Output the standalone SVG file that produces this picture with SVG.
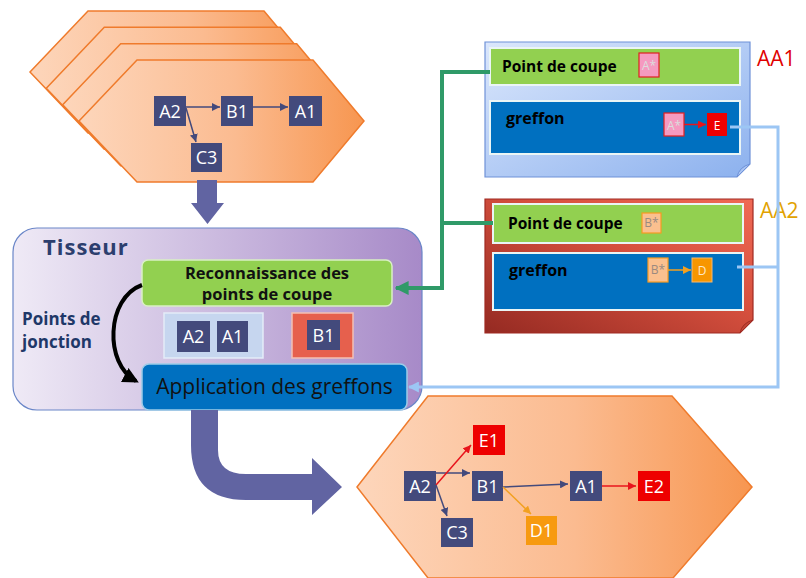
<svg xmlns="http://www.w3.org/2000/svg" width="806" height="578" viewBox="0 0 806 578">
  <defs>
    <linearGradient id="gOrange" x1="0" y1="0" x2="1" y2="0">
      <stop offset="0" stop-color="#fdd6bb"/>
      <stop offset="0.55" stop-color="#fbbb90"/>
      <stop offset="1" stop-color="#f79650"/>
    </linearGradient>
    <linearGradient id="gLav" x1="0" y1="0" x2="1" y2="0">
      <stop offset="0" stop-color="#efeaf6"/>
      <stop offset="1" stop-color="#a78ac8"/>
    </linearGradient>
    <linearGradient id="gBlueNote" x1="0" y1="0" x2="1" y2="1">
      <stop offset="0" stop-color="#dbe7fc"/>
      <stop offset="1" stop-color="#8cb1ee"/>
    </linearGradient>
    <linearGradient id="gRedNote" x1="0" y1="1" x2="1" y2="0">
      <stop offset="0" stop-color="#952a22"/>
      <stop offset="0.6" stop-color="#d8513f"/>
      <stop offset="1" stop-color="#f06a55"/>
    </linearGradient>
    <marker id="mNavy" viewBox="0 0 8 8" refX="8" refY="4" markerWidth="8" markerHeight="8" markerUnits="userSpaceOnUse" orient="auto">
      <path d="M0,0 L8,4 L0,8 Z" fill="#434a7c"/>
    </marker>
    <marker id="mRed" viewBox="0 0 8 8" refX="8" refY="4" markerWidth="8" markerHeight="8" markerUnits="userSpaceOnUse" orient="auto">
      <path d="M0,0 L8,4 L0,8 Z" fill="#e8141c"/>
    </marker>
    <marker id="mOrange" viewBox="0 0 8 8" refX="8" refY="4" markerWidth="8" markerHeight="8" markerUnits="userSpaceOnUse" orient="auto">
      <path d="M0,0 L8,4 L0,8 Z" fill="#f2a020"/>
    </marker>
    <marker id="mGreen" viewBox="0 0 10 10" refX="9" refY="5" markerWidth="14" markerHeight="14" markerUnits="userSpaceOnUse" orient="auto">
      <path d="M0,0 L10,5 L0,10 Z" fill="#2f9a68"/>
    </marker>
    <marker id="mLight" viewBox="0 0 10 10" refX="9" refY="5" markerWidth="11" markerHeight="11" markerUnits="userSpaceOnUse" orient="auto">
      <path d="M0,0 L10,5 L0,10 Z" fill="#9cc6f4"/>
    </marker>
    <marker id="mBlack" viewBox="0 0 10 10" refX="8" refY="5" markerWidth="16" markerHeight="16" markerUnits="userSpaceOnUse" orient="auto">
      <path d="M0,0 L10,5 L0,10 Z" fill="#000"/>
    </marker>
  </defs>
  <style>
    .hex { fill: url(#gOrange); stroke: #ef7b2c; stroke-width: 1.5; }
    .node { fill: #434a7c; }
    .nodeRed { fill: #ee0000; }
    .nodeOrange { fill: #f79a10; }
    .nt { font-family: "Open Sans", "Liberation Sans", sans-serif; font-size: 18px; fill: #ffffff; text-anchor: middle; }
    .bold { font-family: "Open Sans", "Liberation Sans", sans-serif; font-weight: bold; }
    .greenBar { fill: #92d050; stroke: #eaf5f5; stroke-width: 2; }
    .blueBar { fill: #0070c0; stroke: #eaf5f5; stroke-width: 2; }
    .arrNavy { stroke: #434a7c; stroke-width: 1.5; fill: none; marker-end: url(#mNavy); }
    .arrRed { stroke: #e8141c; stroke-width: 1.5; fill: none; marker-end: url(#mRed); }
    .arrOrange { stroke: #f2a020; stroke-width: 1.5; fill: none; marker-end: url(#mOrange); }
    .small { font-family: "Open Sans", "Liberation Sans", sans-serif; font-size: 12px; text-anchor: middle; }
    .bigArrow { fill: #6164a2; }
  </style>

  <!-- stacked program hexagons -->
  <g id="program-stack">
    <polygon class="hex" points="137,60 313,60 364,121 313,182 137,182 79,121" transform="translate(-49,-49)"/>
    <polygon class="hex" points="137,60 313,60 364,121 313,182 137,182 79,121" transform="translate(-32.7,-32.7)"/>
    <polygon class="hex" points="137,60 313,60 364,121 313,182 137,182 79,121" transform="translate(-16.3,-16.3)"/>
    <polygon class="hex" points="137,60 313,60 364,121 313,182 137,182 79,121"/>
  </g>
  <g id="top-A2"><rect class="node" x="154" y="96" width="32" height="30"/><text class="nt" x="170" y="117.5">A2</text></g>
  <g id="top-B1"><rect class="node" x="221" y="96" width="32" height="30"/><text class="nt" x="237" y="117.5">B1</text></g>
  <g id="top-A1"><rect class="node" x="289" y="96" width="33" height="30"/><text class="nt" x="305.5" y="117.5">A1</text></g>
  <g id="top-C3"><rect class="node" x="191" y="143" width="31" height="29"/><text class="nt" x="206.5" y="164">C3</text></g>

  <!-- weaver -->
  <g id="tisseur">
    <rect x="13" y="228" width="409" height="182" rx="24" fill="url(#gLav)" stroke="#6a86c8" stroke-width="1.2"/>
    <text class="bold" x="43" y="255" font-size="22" fill="#2c3e6e" letter-spacing="1">Tisseur</text>
    <text class="bold" x="22" y="325" font-size="17" fill="#1f3868">Points de</text>
    <text class="bold" x="22" y="348" font-size="17" fill="#1f3868">jonction</text>
  </g>
  <g id="reconnaissance">
    <rect x="142" y="260" width="250" height="46" rx="6" fill="#92d050" stroke="#d9f0c4" stroke-width="1.5"/>
    <text class="bold" x="267" y="279" font-size="16.5" fill="#111" text-anchor="middle">Reconnaissance des</text>
    <text class="bold" x="267" y="300" font-size="16.5" fill="#111" text-anchor="middle">points de coupe</text>
  </g>
  <g id="join-points-a">
    <rect x="164" y="313" width="99" height="45" fill="#c6d6ef" stroke="#e3ecf8" stroke-width="1.5"/>
    <rect class="node" x="177" y="321" width="33" height="31"/><text class="nt" x="193.5" y="343">A2</text>
    <rect class="node" x="217" y="321" width="31" height="31"/><text class="nt" x="232.5" y="343">A1</text>
  </g>
  <g id="join-points-b">
    <rect x="292" y="313" width="61" height="45" fill="#e6604d" stroke="#f3c0b4" stroke-width="1.5"/>
    <rect class="node" x="307" y="320" width="33" height="30"/><text class="nt" x="323.5" y="341.5">B1</text>
  </g>
  <g id="application">
    <rect x="142" y="364" width="265" height="46" rx="7" fill="#0070c0" stroke="#9ccbe8" stroke-width="1.5"/>
    <text x="274.5" y="394" font-family="'Open Sans','Liberation Sans',sans-serif" font-size="21" fill="#111" text-anchor="middle">Application des greffons</text>
  </g>

  <!-- aspect AA1 -->
  <g id="aspect-AA1">
    <path d="M485,42 H750 V164 L737,177 H485 Z" fill="url(#gBlueNote)" stroke="#6f92d8" stroke-width="1.2"/>
    <path d="M750,164 L737,177 Q739,167 750,164 Z" fill="#a9c3f2" stroke="#6f92d8" stroke-width="1"/>
    <rect class="greenBar" x="490" y="48" width="250" height="37"/>
    <text class="bold" x="502" y="72" font-size="15.5" fill="#000">Point de coupe</text>
    <rect x="639" y="53" width="20" height="24" fill="#f59ac0" stroke="#e02020" stroke-width="1.2"/>
    <text class="small" x="649" y="70" fill="#dcdcdc">A*</text>
    <rect class="blueBar" x="490" y="101" width="250" height="53"/>
    <text class="bold" x="506" y="124" font-size="16" fill="#000">greffon</text>
    <rect x="664" y="113" width="20" height="23" fill="#f59ac0" stroke="#e02020" stroke-width="1.2"/>
    <text class="small" x="674" y="130" fill="#dcdcdc">A*</text>
    <rect x="707" y="113" width="20" height="23" fill="#ee0000"/>
    <text class="small" x="717" y="130" fill="#fff" font-size="14">E</text>
    <text x="757" y="66" font-family="'Open Sans','Liberation Sans',sans-serif" font-size="21" fill="#e00000">AA1</text>
  </g>

  <!-- aspect AA2 -->
  <g id="aspect-AA2">
    <path d="M485,199 H753 V320 L740,333 H485 Z" fill="url(#gRedNote)" stroke="#a02a22" stroke-width="1.2"/>
    <path d="M753,320 L740,333 Q742,323 753,320 Z" fill="#c04535" stroke="#a02a22" stroke-width="1"/>
    <rect class="greenBar" x="493" y="204" width="250" height="39"/>
    <text class="bold" x="508" y="229" font-size="15.5" fill="#000">Point de coupe</text>
    <rect x="642" y="213" width="19" height="20" fill="#fac08f" stroke="#f79a20" stroke-width="1.2"/>
    <text class="small" x="651.5" y="227" fill="#9a8a80" font-size="10">B*</text>
    <rect class="blueBar" x="493" y="253" width="250" height="57"/>
    <text class="bold" x="509" y="276" font-size="16" fill="#000">greffon</text>
    <rect x="648" y="258" width="20" height="24" fill="#fac08f" stroke="#f79a20" stroke-width="1.2"/>
    <text class="small" x="658" y="274" fill="#9a8a80" font-size="10">B*</text>
    <rect x="692" y="258" width="20" height="24" fill="#f79600" stroke="#f6b870" stroke-width="1"/>
    <text class="small" x="702" y="275" fill="#fde8c8" font-size="14">D</text>
    <text x="760" y="218" font-family="'Open Sans','Liberation Sans',sans-serif" font-size="21" fill="#e2a200">AA2</text>
  </g>

  <!-- woven program -->
  <g id="woven-program">
    <polygon class="hex" points="357,487 428,396 672,396 752,487 673,578 428,578"/>
  </g>
  <g id="out-A2"><rect class="node" x="404" y="471" width="32" height="30"/><text class="nt" x="420" y="492.5">A2</text></g>
  <g id="out-B1"><rect class="node" x="472" y="471" width="31" height="30"/><text class="nt" x="487.5" y="492.5">B1</text></g>
  <g id="out-A1"><rect class="node" x="570" y="471" width="32" height="30"/><text class="nt" x="586" y="492.5">A1</text></g>
  <g id="out-E2"><rect class="nodeRed" x="638" y="471" width="32" height="30"/><text class="nt" x="654" y="492.5">E2</text></g>
  <g id="out-E1"><rect class="nodeRed" x="473" y="425" width="32" height="30"/><text class="nt" x="489" y="446.5">E1</text></g>
  <g id="out-C3"><rect class="node" x="441" y="518" width="32" height="29"/><text class="nt" x="457" y="539">C3</text></g>
  <g id="out-D1"><rect class="nodeOrange" x="526" y="516" width="31" height="29"/><text class="nt" x="541.5" y="537" fill="#fde8c8">D1</text></g>

  <!-- connectors -->
  <g id="connectors">
    <!-- input program -->
    <line class="arrNavy" x1="186" y1="107" x2="220" y2="107"/>
    <line class="arrNavy" x1="253" y1="107" x2="288" y2="107"/>
    <line class="arrNavy" x1="186" y1="108" x2="196" y2="142"/>
    <!-- program into weaver -->
    <polygon class="bigArrow" points="197,180 217,180 217,203 224,203 207.5,224 191,203 197,203"/>
    <!-- weaver out to woven program -->
    <path class="bigArrow" d="M191,410 V445 Q191,500 246,500 H312 V515 L342,487 L312,458 V474 H246 Q218,474 218,450 V410 Z"/>
    <!-- join points loop -->
    <path d="M142,285 C106,298 104,364 136,381" fill="none" stroke="#000" stroke-width="4" marker-end="url(#mBlack)"/>
    <!-- pointcuts -->
    <polyline points="490,72 442,72 442,288 396,288" fill="none" stroke="#2f9a68" stroke-width="4" marker-end="url(#mGreen)"/>
    <line x1="493" y1="223" x2="442" y2="223" stroke="#2f9a68" stroke-width="4"/>
    <!-- advice -->
    <polyline points="730,127 778,127 778,387 409,387" fill="none" stroke="#9cc6f4" stroke-width="3" marker-end="url(#mLight)"/>
    <line x1="737" y1="267" x2="778" y2="267" stroke="#9cc6f4" stroke-width="3"/>
    <!-- advice inside aspects -->
    <line class="arrRed" x1="684" y1="124.5" x2="706" y2="124.5"/>
    <line class="arrOrange" x1="668" y1="270" x2="691" y2="270"/>
    <!-- woven program -->
    <line class="arrNavy" x1="436" y1="473" x2="470" y2="473"/>
    <line class="arrRed" x1="436" y1="485" x2="471" y2="445"/>
    <line class="arrNavy" x1="436" y1="485" x2="447" y2="516"/>
    <line class="arrNavy" x1="503" y1="487" x2="568" y2="484"/>
    <line class="arrOrange" x1="503" y1="487" x2="531" y2="514"/>
    <line class="arrRed" x1="602" y1="486" x2="636" y2="486"/>
  </g>
</svg>
